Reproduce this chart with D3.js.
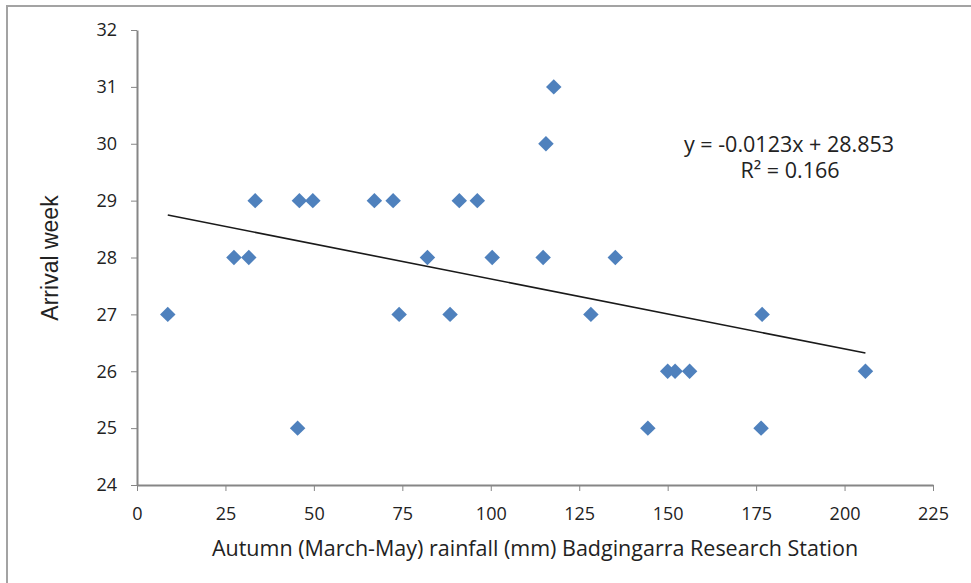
<!DOCTYPE html>
<html>
	<head>
		<meta charset="utf-8">
		<style type="text/css">
			body { margin: 0; background: white; }
			svg { display: block; }
			.axis path, .axis line { stroke: #868686; }
			.axis path { stroke-width: 2; }
			.axis text { font-family: "Open Sans", sans-serif; font-size: 18px; fill: #222; }
			.title { font-family: "Open Sans", sans-serif; font-size: 21.5px; fill: #222; }
			.eq { font-family: "Open Sans", sans-serif; font-size: 21.5px; fill: #222; }
		</style>
		<title>Arrival week vs autumn rainfall</title>
	</head>
	<body>
		<script src="https://cdn.jsdelivr.net/npm/d3@7"></script>
		<script>

// autumn rainfall (mm) and arrival week
var rainfall = [8.7, 27.4, 31.6, 33.4, 45.9, 49.7, 45.4, 67.1, 72.4, 74.1, 82.1, 88.5, 91.1, 96.2,
	100.4, 114.8, 115.6, 117.8, 128.3, 135.2, 144.4, 150.0, 152.1, 156.2, 176.4, 176.7, 205.9];
var week = [27, 28, 28, 29, 29, 29, 25, 29, 29, 27, 28, 27, 29, 29,
	28, 28, 30, 31, 27, 28, 25, 26, 26, 26, 25, 27, 26];
var xTicks = [0, 25, 50, 75, 100, 125, 150, 175, 200, 225];
var yTicks = [24, 25, 26, 27, 28, 29, 30, 31, 32];
var slope = -0.0123, intercept = 28.853;
var eqLines = ["y = -0.0123x + 28.853", "R² = 0.166"];

var W = 971, H = 583;
var margin = {top: 30, right: 38, bottom: 98, left: 137},
	width = 933 - margin.left,
	height = 485 - margin.top;

var data = rainfall.map((r, i) => ({x: r, y: week[i]}));

var x = d3.scaleLinear().domain([0, 225]).range([0, width]);
var y = d3.scaleLinear().domain([24, 32]).range([height, 0]);

var root = d3.select('body').append('svg')
	.attr('width', W)
	.attr('height', H);

// outer frame of the chart area
root.append('rect')
	.attr('x', 7).attr('y', 6)
	.attr('width', W + 20).attr('height', H + 20)
	.attr('fill', 'none')
	.attr('stroke', '#a3a3a3')
	.attr('stroke-width', 2);

var svg = root.append('g')
	.attr('transform', `translate(${margin.left},${margin.top})`);

svg.append('g')
	.attr('class', 'axis')
	.attr('transform', `translate(0,${height})`)
	.call(d3.axisBottom(x).tickValues(xTicks).tickSize(6).tickSizeOuter(0).tickPadding(16));

svg.append('g')
	.attr('class', 'axis')
	.call(d3.axisLeft(y).tickValues(yTicks).tickSize(6).tickSizeOuter(0).tickPadding(14));

// linear trend over the data range
var ext = d3.extent(data, d => d.x);
svg.append('line')
	.attr('x1', x(ext[0])).attr('y1', y(slope * ext[0] + intercept))
	.attr('x2', x(ext[1])).attr('y2', y(slope * ext[1] + intercept))
	.attr('stroke', '#1a1a1a')
	.attr('stroke-width', 1.6);

var diamond = d3.symbol().type(d3.symbolSquare).size(120);
svg.selectAll('.pt')
	.data(data)
	.enter().append('path')
		.attr('class', 'pt')
		.attr('d', diamond)
		.attr('transform', d => `translate(${x(d.x)},${y(d.y)}) rotate(45)`)
		.attr('fill', '#4f81bd');

var eq = svg.append('text')
	.attr('class', 'eq')
	.attr('text-anchor', 'middle')
	.attr('transform', `translate(${789 - margin.left},${152 - margin.top})`);
eq.append('tspan').attr('x', 0).attr('y', 0).text(eqLines[0]);
eq.append('tspan').attr('x', 1).attr('y', 26).text(eqLines[1]);

svg.append('text')
	.attr('class', 'title')
	.attr('text-anchor', 'middle')
	.attr('x', width / 2)
	.attr('y', height + 71)
	.text('Autumn (March-May) rainfall (mm) Badgingarra Research Station');

svg.append('text')
	.attr('text-anchor', 'middle')
	.attr('transform', `translate(${58 - margin.left},${258 - margin.top}) rotate(-90)`)
	.style('font-family', '"Liberation Sans", Arial, sans-serif')
	.style('font-size', '23px')
	.style('fill', '#222')
	.text('Arrival week');

		</script>
	</body>
</html>
